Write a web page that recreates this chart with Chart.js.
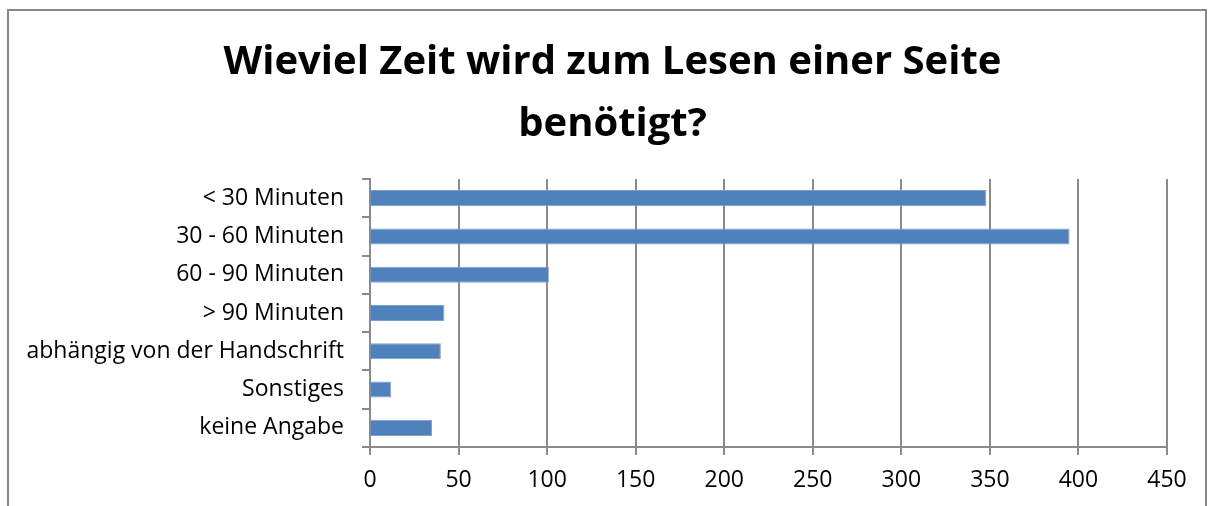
<!DOCTYPE html>
<html>
<head>
<meta charset="utf-8">
<script src="https://cdn.jsdelivr.net/npm/chart.js@4"></script>
<style>
    body { margin: 0; background: #fff; }
    #frame { position: absolute; left: 7px; top: 9px; width: 1196px; height: 600px; border: 2px solid #878787; }
    #wrap { position: absolute; left: 0; top: 0; width: 1214px; height: 506px; }
</style>
</head>
<body>
<div id="frame"></div>
<div id="wrap"><canvas id="chart"></canvas></div>
<script>
var categories = ['< 30 Minuten', '30 - 60 Minuten', '60 - 90 Minuten', '> 90 Minuten', 'abhängig von der Handschrift', 'Sonstiges', 'keine Angabe'];
var answers = [348, 395, 101, 42, 40, 12, 35];
var titleLines = ['Wieviel Zeit wird zum Lesen einer Seite', 'benötigt?'];
var axisMin = 0;
var axisMax = 450;
var axisStep = 50;

var gridColor = '#8a8a8a';

// the title in the reference is centred on the frame, not on the plot
var shiftTitle = {
    id: 'shiftTitle',
    afterLayout: function (chart) {
        if (chart.titleBlock) {
            chart.titleBlock.left = 58;
            chart.titleBlock.right = 1167;
        }
    }
};

function CreateBarChart(element) {
    var data = {
        labels: categories,
        datasets: [{
            data: answers,
            backgroundColor: '#4f81bd',
            borderColor: '#7ea0cf',
            borderWidth: 1,
            barPercentage: 0.42,
            categoryPercentage: 1
        }]
    };

    var config = {
        type: 'bar',
        data: data,
        plugins: [shiftTitle],
        options: {
            indexAxis: 'y',
            responsive: false,
            animation: false,
            layout: { padding: { left: 0, right: 47, top: 0, bottom: 0 } },
            plugins: {
                legend: { display: false },
                tooltip: { enabled: false },
                title: {
                    display: true,
                    text: titleLines,
                    color: '#000',
                    font: { family: 'Open Sans', size: 40, weight: 'bold', lineHeight: 1.55 },
                    padding: { top: 32, bottom: 23 }
                }
            },
            scales: {
                x: {
                    min: axisMin,
                    max: axisMax,
                    ticks: {
                        stepSize: axisStep,
                        color: '#000',
                        padding: 12,
                        font: { family: 'Open Sans', size: 23 }
                    },
                    grid: { color: gridColor, lineWidth: 2, tickLength: 8 },
                    border: { color: gridColor, width: 2 },
                    afterFit: function (scale) { scale.height = 59; }
                },
                y: {
                    ticks: {
                        color: '#000',
                        padding: 18,
                        font: { family: 'Open Sans', size: 23 }
                    },
                    grid: { drawOnChartArea: false, color: gridColor, lineWidth: 2, tickLength: 8 },
                    border: { color: gridColor, width: 2 },
                    afterFit: function (scale) { scale.width = 370; }
                }
            }
        }
    };

    var ctx = document.querySelector(element);
    ctx.width = 1214;
    ctx.height = 506;
    return new Chart(ctx, config);
}

CreateBarChart('#chart');
</script>
</body>
</html>
